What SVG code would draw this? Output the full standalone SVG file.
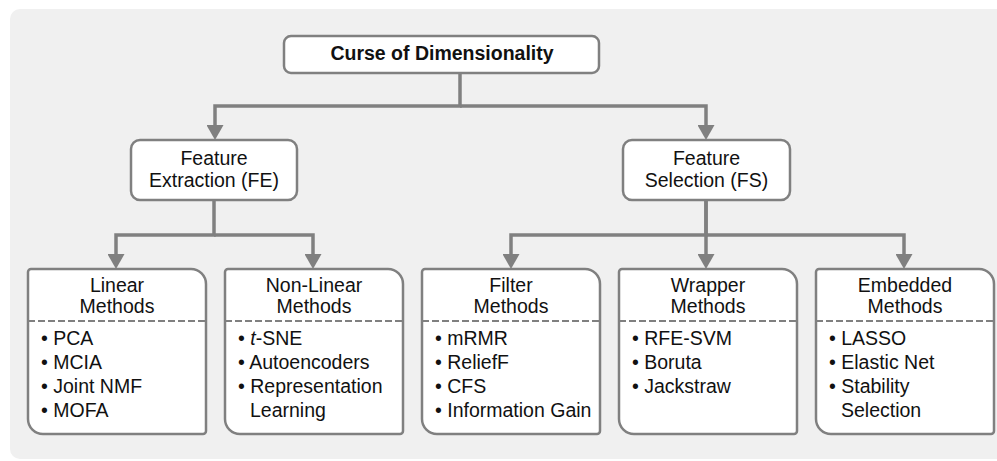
<svg xmlns="http://www.w3.org/2000/svg" width="997" height="461" viewBox="0 0 997 461">
  <defs>
    <style>
      text { font-family: "Liberation Sans", Arial, sans-serif; font-size: 19.5px; fill: #111; }
      .title { font-weight: bold; }
      .mid { text-anchor: middle; }
      .box { fill: #ffffff; stroke: #808080; stroke-width: 2.5; }
      .dash { fill: none; stroke: #808080; stroke-width: 2; stroke-dasharray: 7 3; }
      .conn { fill: none; stroke: #808080; stroke-width: 3.5; stroke-linejoin: miter; }
    </style>
    <marker id="arrow" markerUnits="userSpaceOnUse" markerWidth="15" markerHeight="17" viewBox="0 0 15 17" refX="8" refY="8.5" orient="auto">
      <path d="M0,0 L15,8.5 L0,17 Z" fill="#808080"/>
    </marker>
    <path id="card" d="M3,0 H163 A15,15 0 0 1 178,15 V162 A3,3 0 0 1 175,165 H15 A15,15 0 0 1 0,150 V3 A3,3 0 0 1 3,0 Z"/>
  </defs>

  <rect x="10" y="9" width="1000" height="450" rx="10" ry="10" fill="#f0f0f0"/>

  <g id="connectors">
    <path class="conn" d="M460,73 V106 H215 V133" marker-end="url(#arrow)"/>
    <path class="conn" d="M460,106 H706 V133" marker-end="url(#arrow)"/>
    <path class="conn" d="M214,200 V235 H116 V262" marker-end="url(#arrow)"/>
    <path class="conn" d="M214,235 H313 V262" marker-end="url(#arrow)"/>
    <path class="conn" d="M706,200 V235 H511 V262" marker-end="url(#arrow)"/>
    <path class="conn" d="M706,200 V262" marker-end="url(#arrow)"/>
    <path class="conn" d="M706,235 H904 V262" marker-end="url(#arrow)"/>
  </g>

  <g id="root">
    <rect class="box" x="284" y="36" width="315" height="37" rx="7" ry="7"/>
    <text class="title mid" x="442" y="60">Curse of Dimensionality</text>
  </g>

  <g id="fe">
    <rect class="box" x="131" y="140" width="166" height="60" rx="9" ry="9"/>
    <text class="mid" x="214" y="165">Feature</text>
    <text class="mid" x="214" y="187">Extraction (FE)</text>
  </g>

  <g id="fs">
    <rect class="box" x="623" y="140" width="167" height="60" rx="9" ry="9"/>
    <text class="mid" x="706.5" y="165">Feature</text>
    <text class="mid" x="706.5" y="187">Selection (FS)</text>
  </g>

  <g id="linear" transform="translate(28,269)">
    <use href="#card" class="box"/>
    <path class="dash" d="M0,52 H178"/>
    <text class="mid" x="89" y="23">Linear</text>
    <text class="mid" x="89" y="44">Methods</text>
    <text x="13" y="76">• PCA</text>
    <text x="13" y="100">• MCIA</text>
    <text x="13" y="124">• Joint NMF</text>
    <text x="13" y="148">• MOFA</text>
  </g>

  <g id="nonlinear" transform="translate(225,269)">
    <use href="#card" class="box"/>
    <path class="dash" d="M0,52 H178"/>
    <text class="mid" x="89" y="23">Non-Linear</text>
    <text class="mid" x="89" y="44">Methods</text>
    <text x="13" y="76">• <tspan font-style="italic">t</tspan>-SNE</text>
    <text x="13" y="100">• Autoencoders</text>
    <text x="13" y="124">• Representation</text>
    <text x="25" y="148">Learning</text>
  </g>

  <g id="filter" transform="translate(422,269)">
    <use href="#card" class="box"/>
    <path class="dash" d="M0,52 H178"/>
    <text class="mid" x="89" y="23">Filter</text>
    <text class="mid" x="89" y="44">Methods</text>
    <text x="13" y="76">• mRMR</text>
    <text x="13" y="100">• ReliefF</text>
    <text x="13" y="124">• CFS</text>
    <text x="13" y="148">• Information Gain</text>
  </g>

  <g id="wrapper" transform="translate(619,269)">
    <use href="#card" class="box"/>
    <path class="dash" d="M0,52 H178"/>
    <text class="mid" x="89" y="23">Wrapper</text>
    <text class="mid" x="89" y="44">Methods</text>
    <text x="13" y="76">• RFE-SVM</text>
    <text x="13" y="100">• Boruta</text>
    <text x="13" y="124">• Jackstraw</text>
  </g>

  <g id="embedded" transform="translate(816,269)">
    <use href="#card" class="box"/>
    <path class="dash" d="M0,52 H178"/>
    <text class="mid" x="89" y="23">Embedded</text>
    <text class="mid" x="89" y="44">Methods</text>
    <text x="13" y="76">• LASSO</text>
    <text x="13" y="100">• Elastic Net</text>
    <text x="13" y="124">• Stability</text>
    <text x="25" y="148">Selection</text>
  </g>
</svg>
